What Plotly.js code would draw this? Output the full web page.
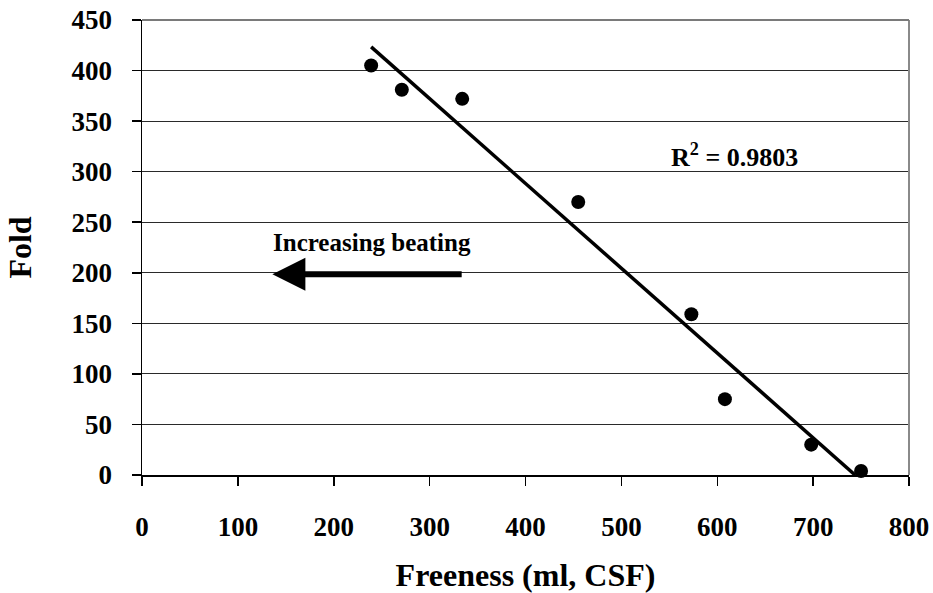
<!DOCTYPE html>
<html>
<head>
<meta charset="utf-8">
<script src="https://cdn.plot.ly/plotly-3.0.1.min.js"></script>
<style>html,body{margin:0;padding:0;background:#fff;}#chart{width:933px;height:593px;}</style>
</head>
<body>
<div id="chart"></div>
<script>
// Data
const freeness = [239, 271, 334, 455, 573, 608, 698, 750];
const fold = [405, 381, 372, 270, 159, 75, 30, 4];
const xTicks = [0, 100, 200, 300, 400, 500, 600, 700, 800];
const yTicks = [0, 50, 100, 150, 200, 250, 300, 350, 400, 450];
const r2Label = 'R<sup>2</sup> = 0.9803';
const arrowLabel = 'Increasing beating';

// Linear least-squares trendline (clipped at the y-axis minimum, as in the original)
const n = freeness.length;
const mx = freeness.reduce((a, b) => a + b, 0) / n;
const my = fold.reduce((a, b) => a + b, 0) / n;
let sxy = 0, sxx = 0;
for (let i = 0; i < n; i++) { sxy += (freeness[i] - mx) * (fold[i] - my); sxx += (freeness[i] - mx) ** 2; }
const slope = sxy / sxx;
const intercept = my - slope * mx;
const xStart = Math.min(...freeness);
const xEnd = Math.min(Math.max(...freeness), -intercept / slope);
const trendX = [xStart, xEnd];
const trendY = trendX.map(v => intercept + slope * v);

const FONT = 'Liberation Serif';

const traces = [
  { x: trendX, y: trendY, type: 'scatter', mode: 'lines', line: { color: '#000', width: 3.5 }, hoverinfo: 'skip', cliponaxis: false },
  { x: freeness, y: fold, type: 'scatter', mode: 'markers', marker: { color: '#000', size: 14 }, cliponaxis: false }
];

const layout = {
  width: 933, height: 593,
  margin: { l: 142, r: 24, t: 20, b: 118 },
  paper_bgcolor: '#fff', plot_bgcolor: '#fff',
  showlegend: false,
  font: { family: FONT, color: '#000' },
  xaxis: {
    range: [0, 800], tickvals: xTicks, ticktext: xTicks.map(String),
    showgrid: false, zeroline: false,
    showline: true, linecolor: '#000', linewidth: 1.5,
    ticks: 'outside', ticklen: 9, tickcolor: '#000', tickwidth: 1.5,
    ticklabelstandoff: 18,
    tickfont: { family: FONT, size: 27, color: '#000', weight: 'bold' },
    title: { text: 'Freeness (ml, CSF)', font: { family: FONT, size: 32, color: '#000', weight: 'bold' }, standoff: 30 },
    fixedrange: true
  },
  yaxis: {
    range: [0, 450], tickvals: yTicks, ticktext: yTicks.map(String),
    showgrid: true, gridcolor: '#2a2a2a', gridwidth: 1.2,
    zeroline: false,
    showline: true, linecolor: '#000', linewidth: 1.5,
    ticks: 'outside', ticklen: 9, tickcolor: '#000', tickwidth: 1.5,
    ticklabelstandoff: 14,
    tickfont: { family: FONT, size: 27, color: '#000', weight: 'bold' },
    title: { text: 'Fold', font: { family: FONT, size: 32, color: '#000', weight: 'bold' }, standoff: 30 },
    fixedrange: true
  },
  shapes: [
    { type: 'line', xref: 'paper', yref: 'paper', x0: 1, x1: 1, y0: 0, y1: 1, line: { color: '#8a8a8a', width: 2 } },
    { type: 'line', xref: 'paper', yref: 'paper', x0: 0, x1: 1, y0: 1, y1: 1, line: { color: '#7a7a7a', width: 2 } }
  ],
  annotations: [
    { x: 618, y: 316, xref: 'x', yref: 'y', text: r2Label, showarrow: false,
      font: { family: FONT, size: 26, color: '#000', weight: 'bold' } },
    { x: 240, y: 230, xref: 'x', yref: 'y', text: arrowLabel, showarrow: false,
      font: { family: FONT, size: 25, color: '#000', weight: 'bold' } },
    { x: 136, y: 198.5, xref: 'x', yref: 'y', ax: 335, ay: 198.5, axref: 'x', ayref: 'y',
      text: '', showarrow: true, arrowhead: 2, arrowsize: 1.1, arrowwidth: 6, arrowcolor: '#000' }
  ]
};

Plotly.newPlot('chart', traces, layout, { displayModeBar: false, staticPlot: true });
</script>
</body>
</html>
